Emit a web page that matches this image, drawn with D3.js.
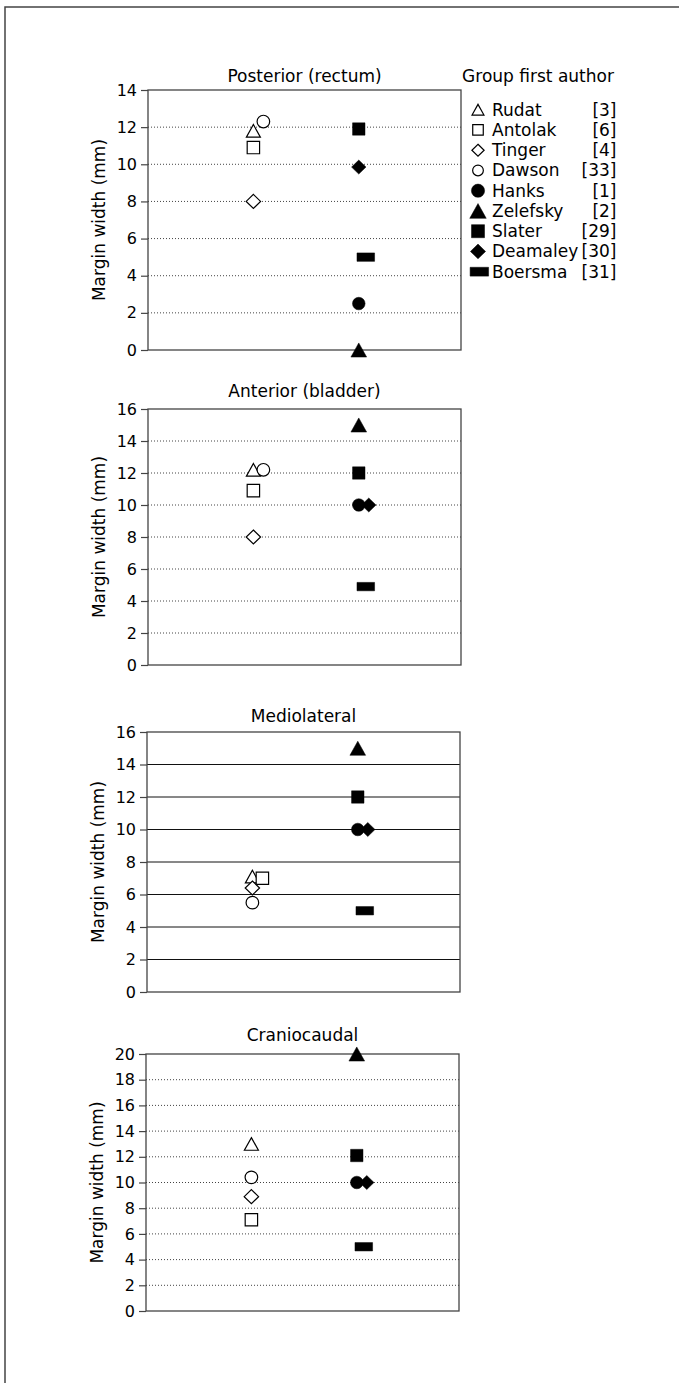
<!DOCTYPE html>
<html>
<head>
<meta charset="utf-8">
<script src="https://cdn.jsdelivr.net/npm/d3@7"></script>
<style>
    html, body { margin: 0; padding: 0; background: #fff; }
    svg { display: block; font-family: "DejaVu Sans", sans-serif; }
</style>
</head>
<body>
<div id="chart"></div>
<script>
// Study authors, in legend order
const authors = ["Rudat", "Antolak", "Tinger", "Dawson", "Hanks", "Zelefsky", "Slater", "Deamaley", "Boersma"];
const references = ["[3]", "[6]", "[4]", "[33]", "[1]", "[2]", "[29]", "[30]", "[31]"];
const symbolKinds = ["triangle", "square", "diamond", "circle", "circle", "triangle", "square", "diamond", "bar"];
const filled = [false, false, false, false, true, true, true, true, true];
// which column an author goes in (1 = open symbols, 2 = filled symbols)
const columns = [1, 1, 1, 1, 2, 2, 2, 2, 2];

// Margin widths (mm) per direction, same order as authors
const posteriorValues = [11.8, 10.9, 8, 12.3, 2.5, 0, 11.9, 9.85, 5];
const anteriorValues = [12.2, 10.9, 8, 12.2, 10, 15, 12, 10, 4.9];
const mediolateralValues = [7.1, 7, 6.4, 5.5, 10, 15, 12, 10, 5];
const craniocaudalValues = [13, 7.1, 8.9, 10.4, 10, 20, 12.1, 10, 5];

const panelTitles = ["Posterior (rectum)", "Anterior (bladder)", "Mediolateral", "Craniocaudal"];
const panelValues = [posteriorValues, anteriorValues, mediolateralValues, craniocaudalValues];
const yMaxima = [14, 16, 16, 20];

// Layout of the four panels
const panelLayout = [
    { left: 148, top: 90, height: 260, titleGap: 8, grid: "dotted" },
    { left: 148, top: 409, height: 256, titleGap: 12, grid: "dotted" },
    { left: 147, top: 732, height: 260, titleGap: 10, grid: "solid" },
    { left: 146, top: 1054, height: 257, titleGap: 13, grid: "dotted" },
];
const plotWidth = 313;
const frameColor = "#444";

const svg = d3
    .select("#chart")
    .append("svg")
    .attr("width", 679)
    .attr("height", 1383);

// Outer figure frame (left and top edges only)
svg.append("path")
    .attr("d", "M5,1383 V7 H679")
    .attr("fill", "none")
    .attr("stroke", frameColor)
    .attr("stroke-width", 1.5);

// Marker path generator, centred on 0,0
function markerPath(kind, s) {
    if (kind === "triangle") {
        const w = 7 * s, h = 6.3 * s;
        return `M0,${-h} L${w},${h} L${-w},${h} Z`;
    }
    if (kind === "square") {
        const h = 6.2 * s;
        return `M${-h},${-h} H${h} V${h} H${-h} Z`;
    }
    if (kind === "diamond") {
        const w = 7.2 * s, h = 7 * s;
        return `M0,${-h} L${w},0 L0,${h} L${-w},0 Z`;
    }
    if (kind === "circle") {
        const r = 6.3 * s;
        return `M${r},0 A${r},${r} 0 1,1 ${-r},0 A${r},${r} 0 1,1 ${r},0 Z`;
    }
    // wide bar used by Boersma, sits a little right of the column
    const w = 8.8 * s, h = 4.2 * s, dx = 7 * s;
    return `M${dx - w},${-h} H${dx + w} V${h} H${dx - w} Z`;
}

function drawMarker(g, i, x, y, s) {
    const filledSize = symbolKinds[i] === "triangle" && filled[i] ? s * 1.12 : s;
    g.append("path")
        .attr("d", markerPath(symbolKinds[i], filled[i] ? filledSize : s))
        .attr("transform", `translate(${x},${y})`)
        .attr("fill", filled[i] ? "#000" : "#fff")
        .attr("stroke", "#000")
        .attr("stroke-width", filled[i] ? 0.5 : 1.2);
}

panelValues.forEach((values, p) => {
    const layout = panelLayout[p];
    const g = svg.append("g")
        .attr("transform", `translate(${layout.left},${layout.top})`);

    const x = d3.scaleLinear().domain([0, 2.97]).range([0, plotWidth]);
    const y = d3.scaleLinear().domain([0, yMaxima[p]]).range([layout.height, 0]);
    const ticks = d3.range(0, yMaxima[p] + 1, 2);

    // Gridlines
    g.selectAll(".grid")
        .data(ticks.slice(1, -1))
        .enter()
        .append("line")
        .attr("x1", 0)
        .attr("x2", plotWidth)
        .attr("y1", (d) => y(d))
        .attr("y2", (d) => y(d))
        .attr("stroke", layout.grid === "solid" ? "#111" : "#444")
        .attr("stroke-width", 1)
        .attr("stroke-dasharray", layout.grid === "solid" ? null : "1,2");

    // Plot box
    g.append("rect")
        .attr("width", plotWidth)
        .attr("height", layout.height)
        .attr("fill", "none")
        .attr("stroke", frameColor)
        .attr("stroke-width", 1.3);

    // Y axis
    const axis = g.append("g")
        .call(d3.axisLeft(y).tickValues(ticks).tickSize(7).tickPadding(4));
    axis.select(".domain").remove();
    axis.selectAll("line").attr("stroke", frameColor).attr("stroke-width", 1.2);
    axis.selectAll("text")
        .attr("fill", "#000")
        .style("font-size", "16px")
        .style("font-family", "DejaVu Sans, sans-serif");

    // Axis label
    g.append("text")
        .attr("transform", `translate(-43,${layout.height / 2}) rotate(-90)`)
        .attr("text-anchor", "middle")
        .style("font-size", "17px")
        .text("Margin width (mm)");

    // Panel title
    g.append("text")
        .attr("x", plotWidth / 2)
        .attr("y", -layout.titleGap)
        .attr("text-anchor", "middle")
        .style("font-size", "17px")
        .text(panelTitles[p]);

    // Markers: nudge right when two markers in a column would overlap
    const placed = [];
    values.forEach((v, i) => {
        let px = x(columns[i]);
        const py = y(v);
        placed.forEach((q) => {
            if (q.col === columns[i] && q.kind !== "bar" && symbolKinds[i] !== "bar"
                && Math.abs(q.py - py) < 10 && Math.abs(q.px - px) < 6) {
                px = q.px + 10;
            }
        });
        placed.push({ col: columns[i], px, py, kind: symbolKinds[i] });
        drawMarker(g, i, px, py, 1);
    });
});

// Legend
const legend = svg.append("g").attr("transform", "translate(478,0)");
legend.append("text")
    .attr("x", 60)
    .attr("y", 82)
    .attr("text-anchor", "middle")
    .style("font-size", "17px")
    .text("Group first author");

authors.forEach((name, i) => {
    const baseline = 115.7 + i * 20.25;
    const s = filled[i] ? 1.05 : 0.85;
    drawMarker(legend, i, symbolKinds[i] === "bar" ? -6 : 0, baseline - 6, s);
    legend.append("text")
        .attr("x", 14)
        .attr("y", baseline)
        .style("font-size", "17px")
        .text(name);
    legend.append("text")
        .attr("x", 138.5)
        .attr("y", baseline)
        .attr("text-anchor", "end")
        .style("font-size", "17px")
        .text(references[i]);
});
</script>
</body>
</html>
